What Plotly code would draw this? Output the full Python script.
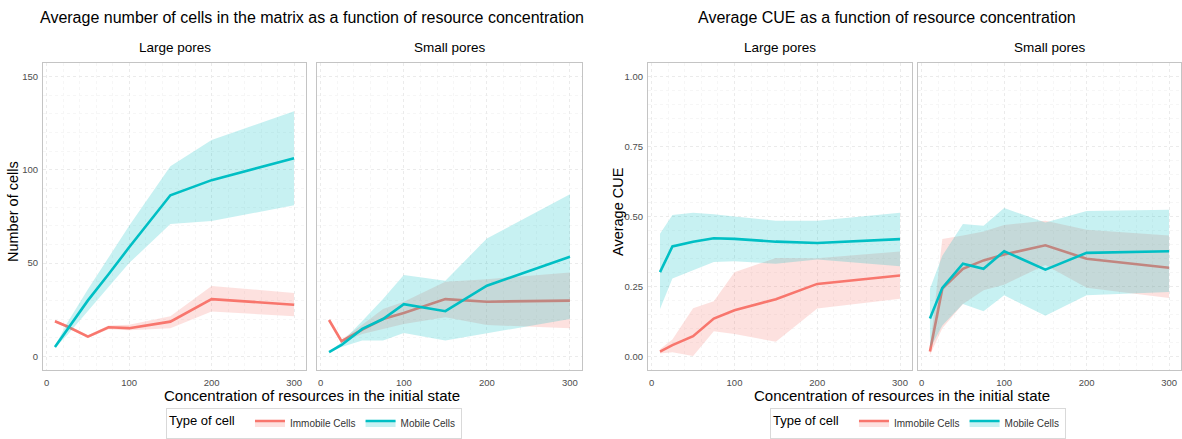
import plotly.graph_objects as go

# ---------------- data ----------------
CONC = [10, 25, 50, 75, 100, 150, 200, 300]
CELL_TYPES = ["Immobile Cells", "Mobile Cells"]
PORES = ["Large pores", "Small pores"]

# Number of cells
cells_large_imm_mean = [18.8, 16.0, 10.6, 15.6, 15.1, 18.6, 30.7, 27.7]
cells_large_imm_lo = [18.0, 15.2, 9.8, 14.5, 14.0, 15.0, 24.0, 21.5]
cells_large_imm_hi = [19.5, 16.8, 11.5, 16.5, 17.0, 21.5, 37.7, 34.0]
cells_large_mob_mean = [5.0, 14.5, 30.0, 44.0, 58.5, 86.4, 94.5, 106.3]
cells_large_mob_lo = [4.5, 11.5, 24.0, 37.0, 50.0, 71.0, 72.6, 81.0]
cells_large_mob_hi = [5.5, 18.0, 36.0, 53.0, 70.0, 102.0, 116.0, 131.5]

cells_small_imm_mean = [19.5, 8.1, 14.3, 20.0, 23.2, 30.7, 29.3, 29.9]
cells_small_imm_lo = [19.0, 7.5, 12.0, 14.7, 17.4, 21.0, 16.8, 15.0]
cells_small_imm_hi = [20.0, 9.0, 17.0, 25.4, 29.3, 40.0, 41.4, 45.0]
cells_small_mob_mean = [2.2, 6.1, 14.7, 20.0, 28.0, 24.2, 37.9, 53.4]
cells_small_mob_lo = [2.0, 5.0, 8.5, 8.5, 12.5, 8.5, 12.5, 20.0]
cells_small_mob_hi = [2.5, 7.5, 19.0, 30.7, 43.6, 40.5, 63.2, 87.0]

# Average CUE
cue_large_imm_mean = [0.017, 0.040, 0.072, 0.135, 0.165, 0.204, 0.259, 0.289]
cue_large_imm_lo = [0.010, 0.015, 0.001, 0.090, 0.080, 0.052, 0.171, 0.206]
cue_large_imm_hi = [0.025, 0.060, 0.172, 0.197, 0.301, 0.352, 0.351, 0.375]
cue_large_mob_mean = [0.301, 0.393, 0.410, 0.422, 0.420, 0.410, 0.405, 0.419]
cue_large_mob_lo = [0.169, 0.278, 0.307, 0.337, 0.340, 0.331, 0.346, 0.322]
cue_large_mob_hi = [0.438, 0.505, 0.513, 0.508, 0.500, 0.485, 0.485, 0.513]

cue_small_imm_mean = [0.017, 0.242, 0.313, 0.343, 0.364, 0.397, 0.349, 0.317]
cue_small_imm_lo = [0.005, 0.100, 0.187, 0.236, 0.256, 0.327, 0.245, 0.209]
cue_small_imm_hi = [0.030, 0.420, 0.432, 0.446, 0.470, 0.485, 0.453, 0.432]
cue_small_mob_mean = [0.135, 0.245, 0.331, 0.313, 0.376, 0.310, 0.370, 0.376]
cue_small_mob_lo = [0.028, 0.110, 0.187, 0.161, 0.218, 0.145, 0.218, 0.230]
cue_small_mob_hi = [0.242, 0.360, 0.473, 0.467, 0.530, 0.479, 0.520, 0.524]

CELL_TICKS = [0, 50, 100, 150]
CUE_TICKS = [0.0, 0.25, 0.5, 0.75, 1.0]
CUE_TICK_LABELS = ["0.00", "0.25", "0.50", "0.75", "1.00"]
X_TICKS = [0, 100, 200, 300]

# ---------------- styling ----------------
W, H = 1182, 439
RED = "#F8766D"
CYAN = "#00BFC4"
FILLS = {RED: "rgba(248,118,109,0.22)", CYAN: "rgba(0,191,196,0.22)"}
COLORS = [RED, CYAN]


def xd(a, b):
    return [a / W, b / W]


def yd(top, bottom):
    return [1 - bottom / H, 1 - top / H]


fig = go.Figure()

panels = [
    ("x", "y", [(cells_large_imm_lo, cells_large_imm_mean, cells_large_imm_hi),
                (cells_large_mob_lo, cells_large_mob_mean, cells_large_mob_hi)]),
    ("x2", "y2", [(cells_small_imm_lo, cells_small_imm_mean, cells_small_imm_hi),
                  (cells_small_mob_lo, cells_small_mob_mean, cells_small_mob_hi)]),
    ("x3", "y3", [(cue_large_imm_lo, cue_large_imm_mean, cue_large_imm_hi),
                  (cue_large_mob_lo, cue_large_mob_mean, cue_large_mob_hi)]),
    ("x4", "y4", [(cue_small_imm_lo, cue_small_imm_mean, cue_small_imm_hi),
                  (cue_small_mob_lo, cue_small_mob_mean, cue_small_mob_hi)]),
]

for xa, ya, series in panels:
    for (lo, mean, hi), color, name in zip(series, COLORS, CELL_TYPES):
        fig.add_trace(go.Scatter(
            x=CONC + CONC[::-1], y=hi + lo[::-1], xaxis=xa, yaxis=ya,
            fill="toself", fillcolor=FILLS[color], line=dict(width=0),
            mode="lines", showlegend=False, hoverinfo="skip"))
        fig.add_trace(go.Scatter(
            x=CONC, y=mean, xaxis=xa, yaxis=ya, mode="lines",
            line=dict(color=color, width=2.6), name=name, showlegend=False))

# legend entries (one legend per chart)
for leg in ["legend", "legend2"]:
    for color, name in zip(COLORS, CELL_TYPES):
        fig.add_trace(go.Scatter(
            x=[None], y=[None], mode="lines", fill="toself",
            fillcolor=FILLS[color], line=dict(color=color, width=2.6),
            name=name, legend=leg, showlegend=True))

grid = dict(showgrid=True, gridcolor="#ebebeb", griddash="dot", gridwidth=1,
            zeroline=False, showline=True, mirror=True, linecolor="#c4c4c4",
            linewidth=1.2, ticks="", tickfont=dict(size=9.5, color="#4d4d4d",
                                                   family="Liberation Sans, Arial"),
            minor=dict(showgrid=True, gridcolor="#f6f6f6", griddash="dot"))

xcommon = dict(grid, range=[-4.5, 314.5], tickvals=X_TICKS, ticklabelstandoff=3)
cells_y = dict(grid, range=[-7.5, 157.5], tickvals=CELL_TICKS, ticklabelstandoff=2)
cue_y = dict(grid, range=[-0.05, 1.05], tickvals=CUE_TICKS, ticktext=CUE_TICK_LABELS,
             ticklabelstandoff=2)

PT, PB = 63, 372
legend_common = dict(orientation="h", xanchor="center", y=1 - 425 / H,
                     yanchor="middle", bordercolor="#d9d9d9", borderwidth=1,
                     title=dict(text="Type of cell  ", font=dict(size=13, color="black")),
                     font=dict(size=10, color="#333333"), itemwidth=30)
fig.update_layout(
    width=W, height=H, margin=dict(l=0, r=0, t=0, b=0),
    plot_bgcolor="white", paper_bgcolor="white",
    font=dict(family="Liberation Sans, Arial", color="black"),
    xaxis=dict(xcommon, domain=xd(43, 306), anchor="y"),
    xaxis2=dict(xcommon, domain=xd(317, 582), anchor="y2"),
    xaxis3=dict(xcommon, domain=xd(648, 912), anchor="y3"),
    xaxis4=dict(xcommon, domain=xd(918, 1181), anchor="y4"),
    yaxis=dict(cells_y, domain=yd(PT, PB), anchor="x"),
    yaxis2=dict(cells_y, domain=yd(PT, PB), anchor="x2", showticklabels=False),
    yaxis3=dict(cue_y, domain=yd(PT, PB), anchor="x3"),
    yaxis4=dict(cue_y, domain=yd(PT, PB), anchor="x4", showticklabels=False),
    legend=dict(legend_common, x=314 / W),
    legend2=dict(legend_common, x=918 / W),
)

ann = []


def text(x, y, s, size, color="black", angle=0):
    ann.append(dict(x=x / W, y=1 - y / H, xref="paper", yref="paper", text=s,
                    showarrow=False, xanchor="center", yanchor="middle",
                    font=dict(size=size, color=color), textangle=angle))


text(312, 18, "Average number of cells in the matrix as a function of resource concentration", 16)
text(887, 18, "Average CUE as a function of resource concentration", 16)
for cx, label in [(174.5, PORES[0]), (449.5, PORES[1]), (780, PORES[0]), (1049.5, PORES[1])]:
    text(cx, 48, label, 13.5)
text(312, 397, "Concentration of resources in the initial state", 15)
text(902, 397, "Concentration of resources in the initial state", 15)
text(13, 213, "Number of cells", 14.5, angle=-90)
text(618, 213, "Average CUE", 14.5, angle=-90)
fig.update_layout(annotations=ann)

fig.write_html("out.html")
